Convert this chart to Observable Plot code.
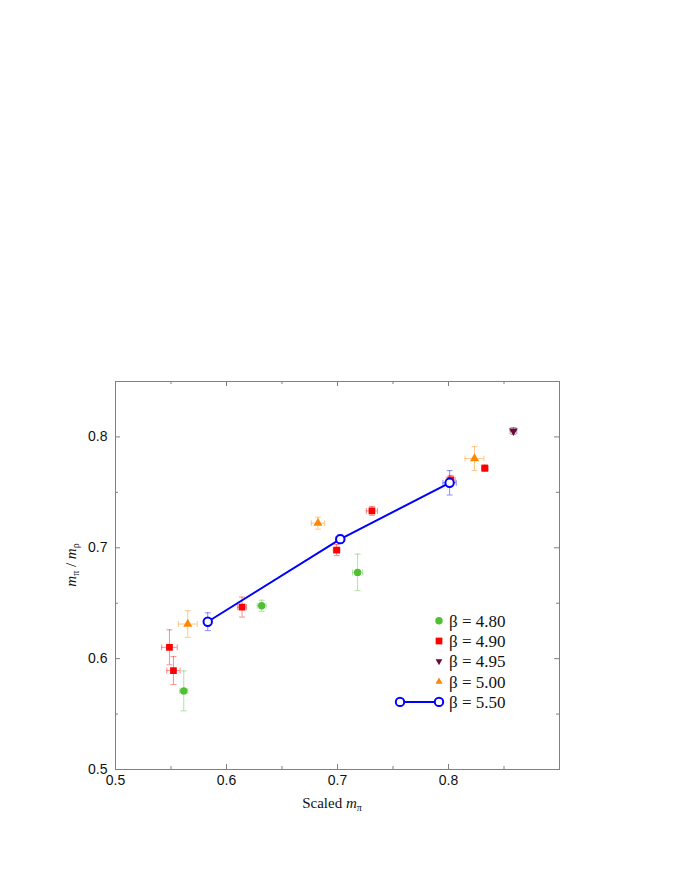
<!DOCTYPE html>
<html><head><meta charset="utf-8">
<script src="https://cdn.jsdelivr.net/npm/d3@7"></script>
<script src="https://cdn.jsdelivr.net/npm/@observablehq/plot@0.6"></script>
<style>body{margin:0;background:#fff} #chart{width:675px;height:873px}</style>
</head><body><div id="chart"></div>
<script>
// β = 4.80
const x480 = [0.5615, 0.6317, 0.7181];
const y480 = [0.5709, 0.6477, 0.6778];
const xe480 = [0.0036, 0.0040, 0.0045];
const ye480 = [0.0180, 0.0050, 0.0165];
// β = 4.90
const x490 = [0.5486, 0.5522, 0.6140, 0.6992, 0.7310, 0.8020, 0.8327];
const y490 = [0.6102, 0.5892, 0.6465, 0.6979, 0.7333, 0.7613, 0.7718];
const xe490 = [0.0070, 0.0060, 0.0040, 0.0030, 0.0050, 0.0040, 0.0030];
const ye490 = [0.0158, 0.0126, 0.0090, 0.0050, 0.0040, 0.0040, 0.0030];
// β = 4.95
const x495 = [0.8585];
const y495 = [0.8054];
const xe495 = [0.0030];
const ye495 = [0.0030];
// β = 5.00
const x500 = [0.5651, 0.6824, 0.8234];
const y500 = [0.6312, 0.7222, 0.7805];
const xe500 = [0.0085, 0.0060, 0.0085];
const ye500 = [0.0120, 0.0054, 0.0107];
// β = 5.50
const x550 = [0.5831, 0.7025, 0.8010];
const y550 = [0.6333, 0.7078, 0.7586];
const xe550 = [0.0030, 0.0040, 0.0060];
const ye550 = [0.0080, 0.0040, 0.0110];

const xTicks = [0.5, 0.6, 0.7, 0.8];
const xMinor = [0.55, 0.65, 0.75, 0.85];
const yTicks = [0.5, 0.6, 0.7, 0.8];
const yMinor = [0.55, 0.65, 0.75];
const legendLabels = ["β = 4.80", "β = 4.90", "β = 4.95", "β = 5.00", "β = 5.50"];

const series = [
  {label: legendLabels[0], color: "#4fbf33", symbol: "circle", rotate: 0, r: 3.7, x: x480, y: y480, xe: xe480, ye: ye480},
  {label: legendLabels[1], color: "#ff0000", symbol: "square", rotate: 0, r: 3.8, x: x490, y: y490, xe: xe490, ye: ye490},
  {label: legendLabels[2], color: "#660a3c", symbol: "triangle", rotate: 180, r: 3.2, x: x495, y: y495, xe: xe495, ye: ye495},
  {label: legendLabels[3], color: "#ff8800", symbol: "triangle", rotate: 0, r: 3.4, x: x500, y: y500, xe: xe500, ye: ye500},
  {label: legendLabels[4], color: "#0000ff", symbol: "circle", rotate: 0, r: 4.2, x: x550, y: y550, xe: xe550, ye: ye550, open: true, line: true}
];
series.forEach(s => s.rows = s.x.map((x, i) => ({x, y: s.y[i], xe: s.xe[i], ye: s.ye[i]})));

const capH = {draw(ctx) { ctx.moveTo(-3, 0); ctx.lineTo(3, 0); }};
const capV = {draw(ctx) { ctx.moveTo(0, -3); ctx.lineTo(0, 3); }};

const W = 675, H = 873, mL = 115, mR = 116, mT = 381, mB = 104;
const pw = W - mL - mR, ph = H - mT - mB;
const frameColor = "#808080";

const marks = [];
// error bars
for (const s of series) {
  const o = {stroke: s.color, strokeOpacity: 0.45, strokeWidth: 1};
  marks.push(Plot.ruleX(s.rows, {x: "x", y1: d => d.y - d.ye, y2: d => d.y + d.ye, ...o}));
  marks.push(Plot.ruleY(s.rows, {y: "y", x1: d => d.x - d.xe, x2: d => d.x + d.xe, ...o}));
  marks.push(Plot.dot(s.rows, {x: "x", y: d => d.y + d.ye, symbol: capH, ...o}));
  marks.push(Plot.dot(s.rows, {x: "x", y: d => d.y - d.ye, symbol: capH, ...o}));
  marks.push(Plot.dot(s.rows, {x: d => d.x - d.xe, y: "y", symbol: capV, ...o}));
  marks.push(Plot.dot(s.rows, {x: d => d.x + d.xe, y: "y", symbol: capV, ...o}));
}
// points
for (const s of series) {
  if (s.line) marks.push(Plot.line(s.rows, {x: "x", y: "y", stroke: s.color, strokeWidth: 2}));
  if (s.open) {
    marks.push(Plot.dot(s.rows, {x: "x", y: "y", r: s.r, fill: "white", stroke: s.color, strokeWidth: 2}));
  } else {
    marks.push(Plot.dot(s.rows, {x: "x", y: "y", r: s.r, symbol: s.symbol, rotate: s.rotate, fill: s.color, stroke: "none"}));
  }
}
// frame and inward ticks
marks.push(Plot.frame({stroke: frameColor, strokeWidth: 1}));
const tk = {stroke: frameColor, strokeWidth: 1};
marks.push(Plot.tickX(xTicks, {x: d => d, insetTop: ph - 5, ...tk}));
marks.push(Plot.tickX(xTicks, {x: d => d, insetBottom: ph - 5, ...tk}));
marks.push(Plot.tickX(xMinor, {x: d => d, insetTop: ph - 3, ...tk}));
marks.push(Plot.tickX(xMinor, {x: d => d, insetBottom: ph - 3, ...tk}));
marks.push(Plot.tickY(yTicks, {y: d => d, insetRight: pw - 5, ...tk}));
marks.push(Plot.tickY(yTicks, {y: d => d, insetLeft: pw - 5, ...tk}));
marks.push(Plot.tickY(yMinor, {y: d => d, insetRight: pw - 3, ...tk}));
marks.push(Plot.tickY(yMinor, {y: d => d, insetLeft: pw - 3, ...tk}));
// tick labels
marks.push(Plot.axisX({ticks: xTicks, tickSize: 0, tickPadding: 6, tickFormat: d3.format(".1f"), label: null, fill: "#111"}));
marks.push(Plot.axisY({ticks: yTicks, tickSize: 0, tickPadding: 8, tickFormat: d3.format(".1f"), label: null, fill: "#111"}));

const plot = Plot.plot({
  width: W, height: H,
  marginLeft: mL, marginRight: mR, marginTop: mT, marginBottom: mB,
  x: {domain: [0.5, 0.9]},
  y: {domain: [0.5, 0.85]},
  style: {fontFamily: "'Liberation Sans', Arial, sans-serif", fontSize: "14px", background: "white", color: "#111"},
  marks
});

const svg = d3.select(plot);
const serif = "'Liberation Serif', 'Times New Roman', serif";

// x-axis label
const xl = svg.append("text").attr("x", mL + pw / 2 - 5).attr("y", 808)
  .attr("text-anchor", "middle").attr("font-family", serif).attr("font-size", 15).attr("fill", "#111");
xl.append("tspan").text("Scaled ");
xl.append("tspan").attr("font-style", "italic").text("m");
xl.append("tspan").attr("font-size", 10).attr("dy", 3).text("π");

// y-axis label
const yl = svg.append("text").attr("transform", `translate(76,${mT + ph / 2 - 10}) rotate(-90)`)
  .attr("text-anchor", "middle").attr("font-family", serif).attr("font-size", 15).attr("fill", "#111");
yl.append("tspan").attr("font-style", "italic").text("m");
yl.append("tspan").attr("font-size", 10).attr("dy", 3).text("π");
yl.append("tspan").attr("dy", -3).text(" / ");
yl.append("tspan").attr("font-style", "italic").text("m");
yl.append("tspan").attr("font-size", 10).attr("dy", 3).text("ρ");

// legend
const lg = svg.append("g").attr("text-anchor", "start");
const symMap = {circle: d3.symbolCircle, square: d3.symbolSquare, triangle: d3.symbolTriangle2};
series.forEach((s, i) => {
  const cy = 620.7 + i * 20.3, sx = 439;
  if (s.line) {
    lg.append("line").attr("x1", 400).attr("x2", sx).attr("y1", cy).attr("y2", cy)
      .attr("stroke", s.color).attr("stroke-width", 2);
    [400, sx].forEach(cx => lg.append("circle").attr("cx", cx).attr("cy", cy).attr("r", s.r)
      .attr("fill", "white").attr("stroke", s.color).attr("stroke-width", 2));
  } else {
    lg.append("path").attr("d", d3.symbol(symMap[s.symbol], Math.PI * s.r * s.r)())
      .attr("transform", `translate(${sx},${cy}) rotate(${s.rotate})`).attr("fill", s.color);
  }
  lg.append("text").attr("x", 449).attr("y", cy + 6).attr("text-anchor", "start").attr("font-family", serif)
    .attr("font-size", 17).attr("fill", "#111").text(s.label);
});

document.getElementById("chart").appendChild(plot);
</script>
</body></html>
